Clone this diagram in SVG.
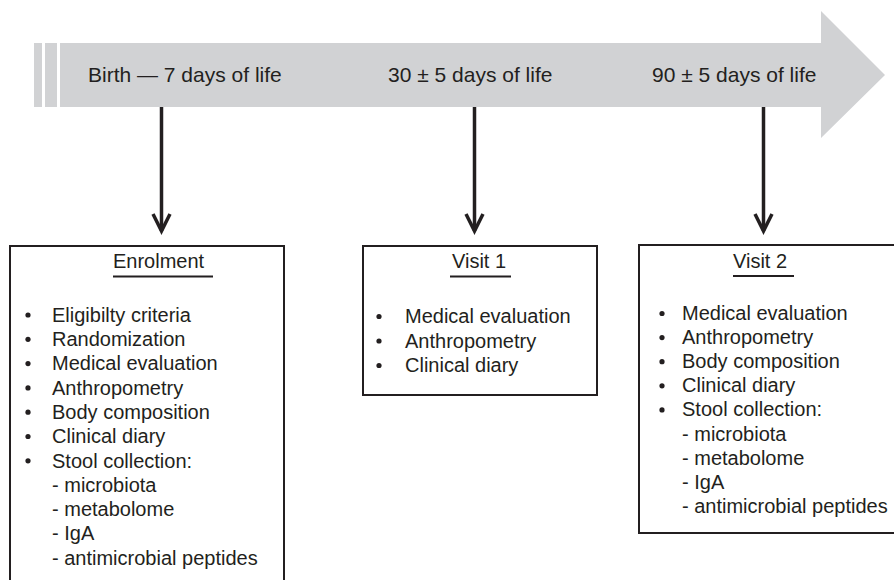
<svg xmlns="http://www.w3.org/2000/svg" width="894" height="580" viewBox="0 0 894 580">
<style>
text{font-family:"Liberation Sans",Arial,sans-serif;fill:#231f20}
.tl{font-size:21px}
.t{font-size:20px}
.box{fill:#fff;stroke:#231f20;stroke-width:2}
.ul{stroke:#231f20;stroke-width:2}
.bul{fill:#231f20}
.conn{stroke:#231f20;stroke-width:3.5;fill:none}
</style>
<defs>
<marker id="ah" markerUnits="userSpaceOnUse" orient="auto" refX="0" refY="0" markerWidth="20" markerHeight="20" overflow="visible">
<path d="M-17,-8.5 L0,0 L-17,8.5" fill="none" stroke="#231f20" stroke-width="3.5"/>
</marker>
</defs>
<rect width="894" height="580" fill="#fff"/>
<g id="timeline">
<rect x="34" y="43" width="8" height="64" fill="#d1d2d4"/>
<rect x="45" y="43" width="12" height="64" fill="#d1d2d4"/>
<path d="M60,43 H821 V11 L885,75 L821,138 V107 H60 Z" fill="#d1d2d4"/>
<text class="tl" x="88" y="82">Birth — 7 days of life</text>
<text class="tl" x="388" y="82">30 ± 5 days of life</text>
<text class="tl" x="652" y="82">90 ± 5 days of life</text>
</g>
<g id="connectors">
<line class="conn" x1="161.5" y1="107" x2="161.5" y2="231" marker-end="url(#ah)"/>
<line class="conn" x1="474.5" y1="107" x2="474.5" y2="231" marker-end="url(#ah)"/>
<line class="conn" x1="763.5" y1="107" x2="763.5" y2="231" marker-end="url(#ah)"/>
</g>
<g id="enrolment">
<path class="box" d="M10,584 V246 H284 V584"/>
<text class="t" x="113" y="268">Enrolment</text>
<line class="ul" x1="113" y1="276.5" x2="213" y2="276.5"/>
<g class="bul">
<circle cx="28" cy="315" r="2.6"/>
<circle cx="28" cy="339.3" r="2.6"/>
<circle cx="28" cy="363.6" r="2.6"/>
<circle cx="28" cy="387.9" r="2.6"/>
<circle cx="28" cy="412.2" r="2.6"/>
<circle cx="28" cy="436.5" r="2.6"/>
<circle cx="28" cy="460.8" r="2.6"/>
</g>
<text class="t" x="52" y="321.7">Eligibilty criteria</text>
<text class="t" x="52" y="346">Randomization</text>
<text class="t" x="52" y="370.3">Medical evaluation</text>
<text class="t" x="52" y="394.6">Anthropometry</text>
<text class="t" x="52" y="418.9">Body composition</text>
<text class="t" x="52" y="443.2">Clinical diary</text>
<text class="t" x="52" y="467.5">Stool collection:</text>
<text class="t" x="52" y="491.8">- microbiota</text>
<text class="t" x="52" y="516.1">- metabolome</text>
<text class="t" x="52" y="540.4">- IgA</text>
<text class="t" x="52" y="564.7">- antimicrobial peptides</text>
</g>
<g id="visit1">
<rect class="box" x="363" y="246" width="234" height="149"/>
<text class="t" x="452" y="268">Visit 1</text>
<line class="ul" x1="450" y1="276.5" x2="511" y2="276.5"/>
<g class="bul">
<circle cx="379" cy="316.5" r="2.6"/>
<circle cx="379" cy="341" r="2.6"/>
<circle cx="379" cy="365.5" r="2.6"/>
</g>
<text class="t" x="405" y="323">Medical evaluation</text>
<text class="t" x="405" y="347.5">Anthropometry</text>
<text class="t" x="405" y="372">Clinical diary</text>
</g>
<g id="visit2">
<rect class="box" x="639" y="245" width="262" height="288"/>
<text class="t" x="733" y="268">Visit 2</text>
<line class="ul" x1="733" y1="276" x2="794" y2="276"/>
<g class="bul">
<circle cx="662" cy="313.5" r="2.6"/>
<circle cx="662" cy="337.6" r="2.6"/>
<circle cx="662" cy="361.7" r="2.6"/>
<circle cx="662" cy="385.8" r="2.6"/>
<circle cx="662" cy="409.9" r="2.6"/>
</g>
<text class="t" x="682" y="320">Medical evaluation</text>
<text class="t" x="682" y="344.1">Anthropometry</text>
<text class="t" x="682" y="368.2">Body composition</text>
<text class="t" x="682" y="392.3">Clinical diary</text>
<text class="t" x="682" y="416.4">Stool collection:</text>
<text class="t" x="682" y="440.5">- microbiota</text>
<text class="t" x="682" y="464.6">- metabolome</text>
<text class="t" x="682" y="488.7">- IgA</text>
<text class="t" x="682" y="512.8">- antimicrobial peptides</text>
</g>
</svg>
